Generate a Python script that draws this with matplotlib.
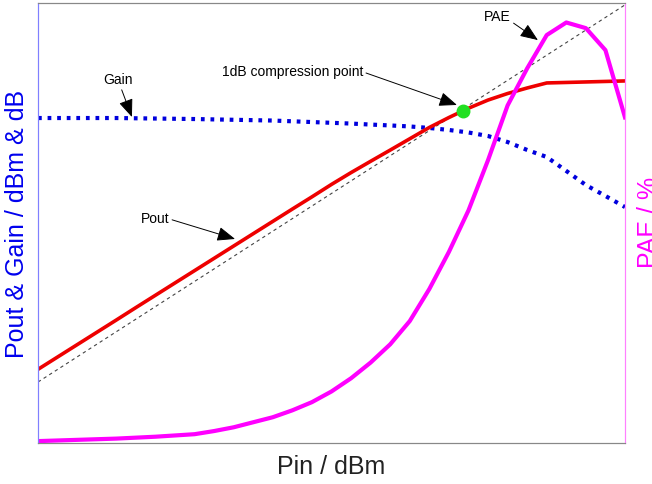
import numpy as np
import matplotlib
matplotlib.use("Agg")
import matplotlib.pyplot as plt

plt.rcParams['font.family'] = ['Liberation Sans', 'DejaVu Sans']

# amplifier sweep, Pin in dBm
pin = np.arange(-20, 11)
pout = [-4.14, -3.16, -2.18, -1.20, -0.22, 0.77, 1.75, 2.73, 3.71, 4.69, 5.67,
        6.65, 7.63, 8.61, 9.58, 10.57, 11.51, 12.41, 13.30, 14.20, 15.10,
        15.89, 16.63, 17.28, 17.80, 18.24, 18.64, 18.68, 18.72, 18.76, 18.80]
gain = [15.85, 15.85, 15.85, 15.85, 15.85, 15.83, 15.81, 15.79, 15.77, 15.74, 15.71,
        15.68, 15.65, 15.59, 15.53, 15.47, 15.41, 15.33, 15.26, 15.18, 15.06,
        14.90, 14.70, 14.42, 13.94, 13.31, 12.75, 11.64, 10.52, 9.65, 8.77]
pae = [0.3, 0.4, 0.5, 0.6, 0.7, 0.85, 1.0, 1.2, 1.4, 1.9, 2.5,
       3.3, 4.1, 5.2, 6.5, 8.2, 10.3, 12.8, 15.7, 19.4, 24.5,
       30.4, 37.0, 45.0, 53.7, 59.6, 64.9, 66.9, 66.0, 62.5, 51.8]

# ideal linear (small-signal) response
ideal_pin = [-20, 10]
ideal_pout = [-5.15, 24.85]

# 1 dB compression point
p1db_pin = 1.7
p1db_pout = 16.42

fig = plt.figure(figsize=(6.52, 4.84), dpi=100)
ax = fig.add_axes([38 / 652, 41 / 484, 587 / 652, 440 / 484])
ax2 = ax.twinx()

ax.plot(ideal_pin, ideal_pout, color='#444444', lw=0.8, ls=(0, (3, 3)))
ax.plot(pin, gain, color='#0000dd', lw=3, ls=(0, (0.9, 1.4)))
ax.plot(pin, pout, color='#ee0000', lw=2.6)
ax.plot([p1db_pin], [p1db_pout], 'o', color='#22e022', ms=9, zorder=5)
ax2.plot(pin, pae, color='#ff00ff', lw=3)

ax.set_xlim(-20, 10)
ax.set_ylim(-10, 25)
ax2.set_ylim(0, 70)

for a in (ax, ax2):
    a.set_xticks([])
    a.set_yticks([])
    a.spines['top'].set_color('#888888')
    a.spines['bottom'].set_color('#888888')
    a.spines['left'].set_color('#8080ff')
    a.spines['right'].set_color('#ff80ff')

arrow = dict(arrowstyle='-|>,head_length=0.5,head_width=0.2', color='black',
             lw=0.7, mutation_scale=22, shrinkA=0, shrinkB=0)

ax.annotate('Gain', xy=(-15.2, 15.93), xytext=(-15.91, 18.87), fontsize=10,
            ha='center', va='center', arrowprops=arrow)
ax.annotate('Pout', xy=(-9.93, 6.23), xytext=(-14.02, 7.82), fontsize=10,
            ha='center', va='center',
            arrowprops=dict(arrow, relpos=(1, 0.5)))
ax.annotate('1dB compression point', xy=(1.41, 16.89), xytext=(-6.99, 19.51),
            fontsize=10, ha='center', va='center',
            arrowprops=dict(arrow, relpos=(1, 0.5)))
ax2.annotate('PAE', xy=(5.55, 64.1), xytext=(3.48, 67.77), fontsize=10,
             ha='center', va='center',
             arrowprops=dict(arrow, relpos=(1, 0.2)))

ax.set_xlabel('Pin / dBm', fontsize=18, color='#222222', labelpad=9)
fig.text(17 / 652, 1 - 224 / 484, 'Pout & Gain / dBm & dB', fontsize=18,
         color='#0000ee', rotation=90, ha='center', va='center')
fig.text(649 / 652, 1 - 222 / 484, 'PAE / %', fontsize=18,
         color='#ff00ff', rotation=90, ha='center', va='center')

fig.savefig('out.png', dpi=100)
